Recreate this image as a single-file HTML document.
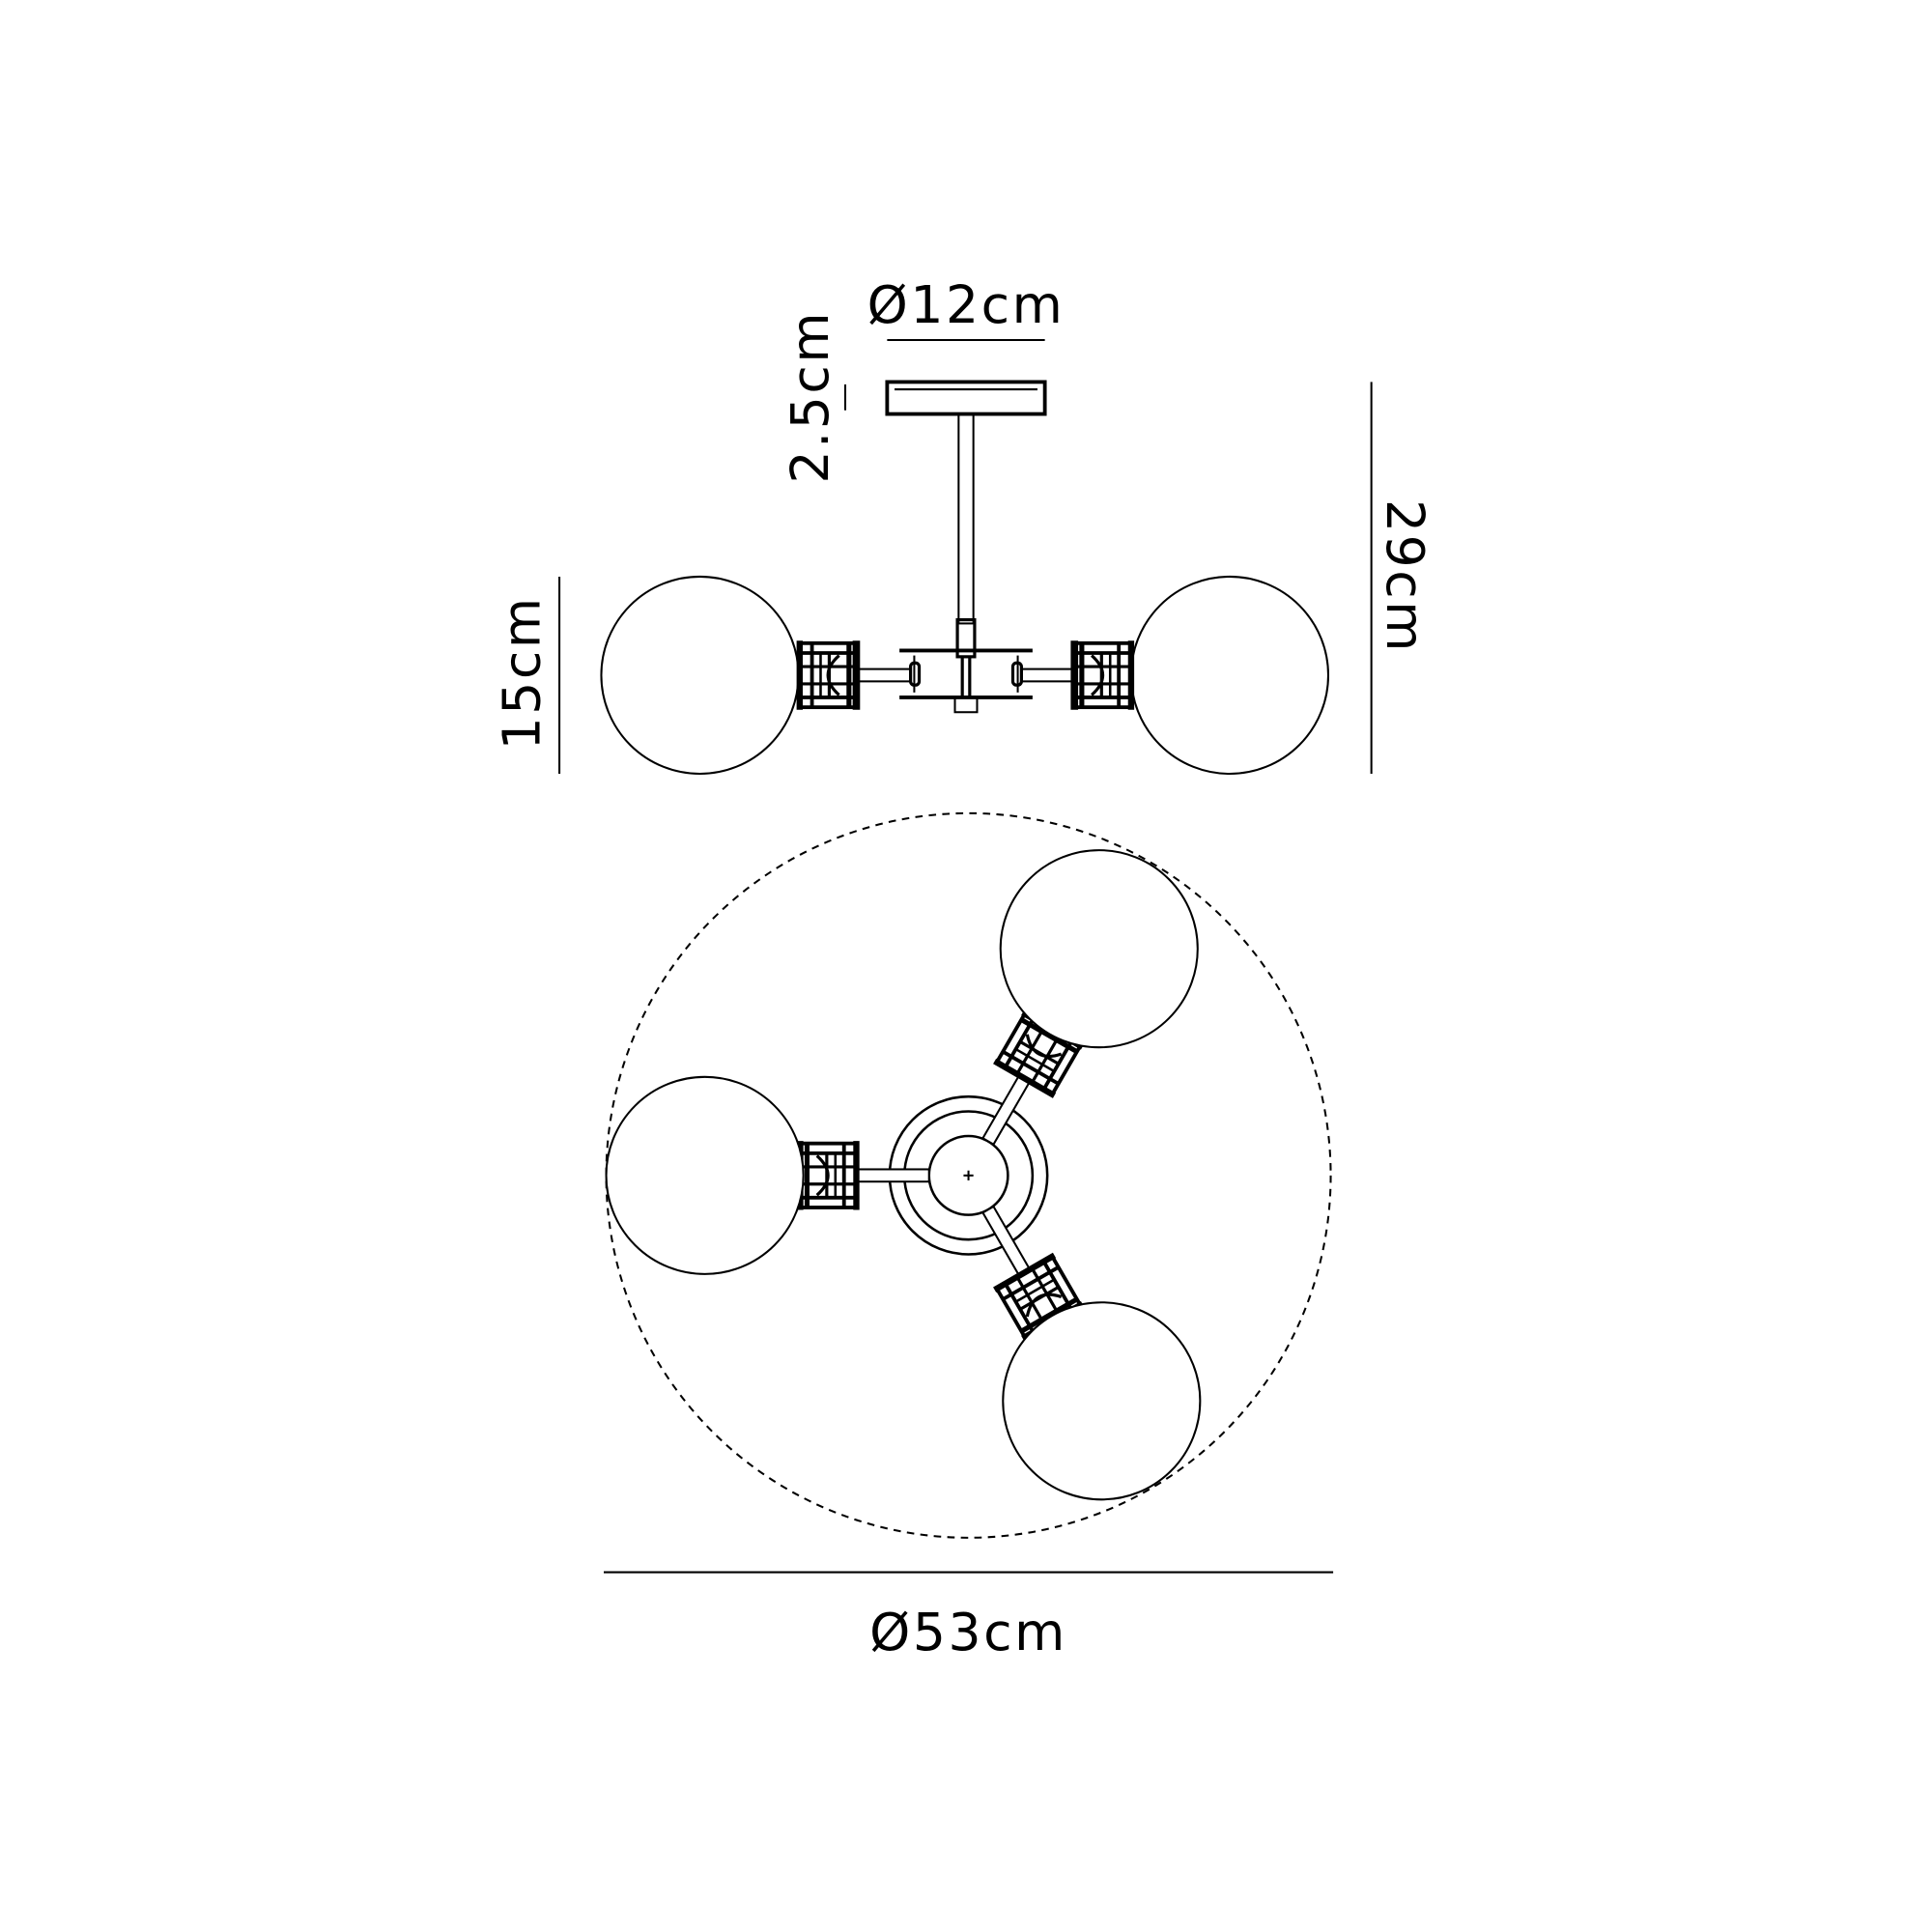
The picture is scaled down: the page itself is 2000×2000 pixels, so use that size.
<!DOCTYPE html>
<html><head><meta charset="utf-8"><style>
html,body{margin:0;padding:0;background:#fff;width:2000px;height:2000px;overflow:hidden}
svg{display:block}
text{font-family:"DejaVu Sans","Liberation Sans",sans-serif;font-size:42px;fill:#000;letter-spacing:2px}
</style></head><body>
<svg width="2000" height="2000" viewBox="0 0 1568 1568" xmlns="http://www.w3.org/2000/svg">
<defs>
<g id="sock" fill="none" stroke="#000">
  <rect x="-24" y="-26" width="46" height="52" stroke-width="3"/>
  <line x1="-24" y1="-28" x2="-24" y2="28" stroke-width="6"/>
  <line x1="22" y1="-28" x2="22" y2="28" stroke-width="5"/>
  <line x1="-18" y1="-26" x2="-18" y2="26" stroke-width="4"/>
  <line x1="12" y1="-26" x2="12" y2="26" stroke-width="3"/>
  <line x1="-24" y1="-18" x2="22" y2="-18" stroke-width="3"/>
  <line x1="-24" y1="18" x2="22" y2="18" stroke-width="3"/>
  <line x1="-24" y1="-7" x2="22" y2="-7" stroke-width="2.5"/>
  <line x1="-24" y1="7" x2="22" y2="7" stroke-width="2.5"/>
  <line x1="-2" y1="-18" x2="-2" y2="18" stroke-width="2.5"/>
  <line x1="5" y1="-18" x2="5" y2="18" stroke-width="2"/>
  <path d="M-10,-16 Q8,0 -10,16" stroke-width="2.5"/>
</g>
</defs>
<g fill="none" stroke="#000" stroke-width="1.6">
<line x1="720" y1="276" x2="848" y2="276"/>
<rect x="720" y="310" width="128" height="26" stroke-width="3"/>
<line x1="726" y1="316" x2="842" y2="316"/>
<line x1="686" y1="312" x2="686" y2="333"/>
<rect x="778" y="336" width="12" height="170"/>
<rect x="777" y="503" width="14" height="30" stroke-width="2.5"/>
<line x1="730" y1="528" x2="838" y2="528" stroke-width="3"/>
<line x1="730" y1="566" x2="838" y2="566" stroke-width="3"/>
<line x1="742" y1="532" x2="742" y2="562"/>
<line x1="826" y1="532" x2="826" y2="562"/>
<rect x="739" y="538" width="7" height="18" rx="3" stroke-width="2.5"/>
<rect x="822" y="538" width="7" height="18" rx="3" stroke-width="2.5"/>
<rect x="775" y="566" width="18" height="12"/>
<line x1="781" y1="533" x2="781" y2="566" stroke-width="2.5"/>
<line x1="787" y1="533" x2="787" y2="566" stroke-width="2.5"/>
<rect x="697" y="543" width="42" height="10"/>
<rect x="829" y="543" width="42" height="10"/>
<use href="#sock" transform="translate(671,548) rotate(180)"/>
<use href="#sock" transform="translate(896,548)"/>
<circle cx="568" cy="548" r="80"/>
<circle cx="998" cy="548" r="80"/>
<line x1="454" y1="468" x2="454" y2="628"/>
<line x1="1113" y1="310" x2="1113" y2="628"/>

<circle cx="786" cy="954" r="294" stroke-dasharray="6,5" stroke-width="1.6"/>
<circle cx="786" cy="954" r="64" stroke-width="2"/>
<circle cx="786" cy="954" r="52" stroke-width="2"/>
<circle cx="786" cy="954" r="32" stroke-width="2"/>
<line x1="782" y1="954" x2="790" y2="954"/><line x1="786" y1="950" x2="786" y2="958"/>
<g transform="translate(786,954) rotate(180)">
  <rect x="32" y="-5" width="58" height="10" fill="#fff"/>
  <use href="#sock" transform="translate(113,0) rotate(180)"/>
</g>
<g transform="translate(786,954) rotate(-60)">
  <rect x="32" y="-5" width="58" height="10" fill="#fff"/>
  <use href="#sock" transform="translate(113,0) rotate(180)"/>
</g>
<g transform="translate(786,954) rotate(60)">
  <rect x="32" y="-5" width="58" height="10" fill="#fff"/>
  <use href="#sock" transform="translate(113,0) rotate(180)"/>
</g>
<circle cx="892" cy="770" r="80" fill="#fff"/>
<circle cx="572" cy="954" r="80" fill="#fff"/>
<circle cx="894" cy="1137" r="80" fill="#fff"/>
<line x1="490" y1="1276" x2="1082" y2="1276"/>
</g>
<text x="784" y="262" text-anchor="middle">Ø12cm</text>
<text x="786" y="1339" text-anchor="middle">Ø53cm</text>
<text transform="translate(672,322) rotate(-90)" text-anchor="middle">2.5cm</text>
<text transform="translate(438,546) rotate(-90)" text-anchor="middle">15cm</text>
<text transform="translate(1126,468) rotate(90)" text-anchor="middle">29cm</text>
</svg>
</body></html>
